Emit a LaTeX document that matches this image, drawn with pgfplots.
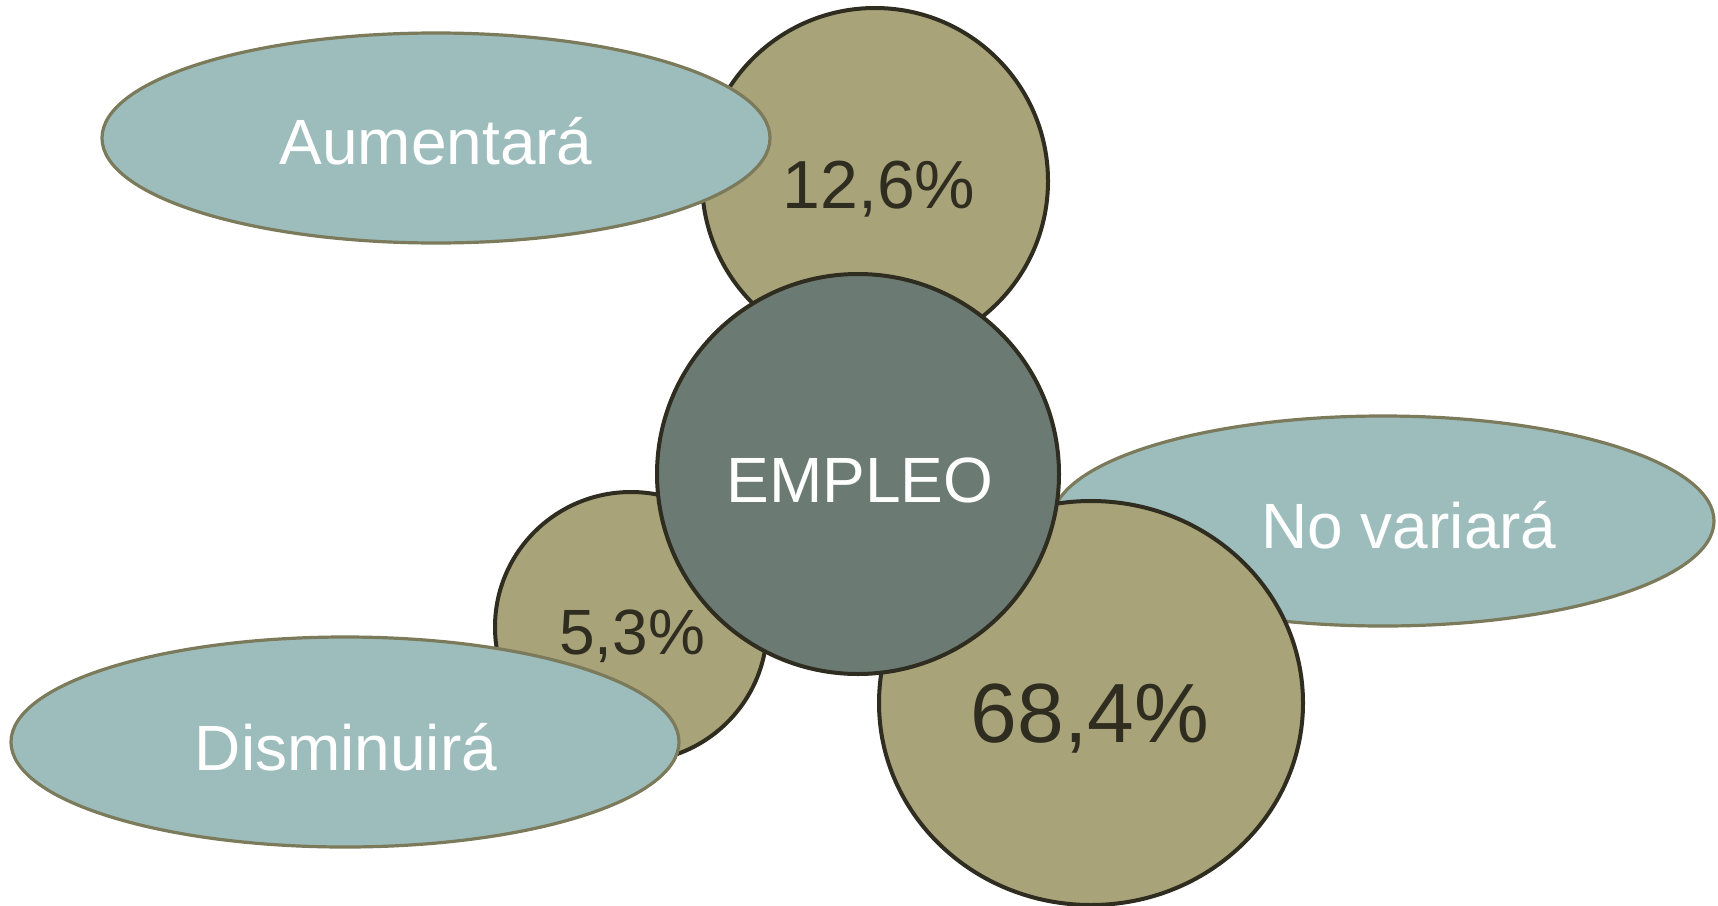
\documentclass[border=0pt]{standalone}
\usepackage{pgfplots}
\usepackage{pgfplotstable}
\pgfplotsset{compat=1.18}
\usepackage{fontspec}
\setmainfont{Liberation Sans}
\definecolor{bubble}{HTML}{A9A37A}
\definecolor{darkline}{HTML}{2F2C20}
\definecolor{ellfill}{HTML}{9DBDBD}
\definecolor{elledge}{HTML}{7B7A5B}
\definecolor{slate}{HTML}{6B7B74}

\pgfdeclareplotmark{ell}{%
  \pgfmathparse{0.5*\rx}\edef\myrx{\pgfmathresult}%
  \pgfmathparse{0.5*\ry}\edef\myry{\pgfmathresult}%
  \pgfpathellipse{\pgfpointorigin}{\pgfqpoint{\myrx pt}{0pt}}{\pgfqpoint{0pt}{\myry pt}}%
  \pgfusepathqfillstroke}

% shapes: centre (x,y) and radii in pixels of a 1718x905 picture
\pgfplotstableread{
x y rx ry
875 181 173 173
}\tabTop
\pgfplotstableread{
x y rx ry
436 138 334 105
}\tabAum
\pgfplotstableread{
x y rx ry
631 627 136 135
}\tabLow
\pgfplotstableread{
x y rx ry
345 742 334 105
}\tabDis
\pgfplotstableread{
x y rx ry
1383 521 331 105
}\tabNov
\pgfplotstableread{
x y rx ry
1091 703 212 202
}\tabBig
\pgfplotstableread{
x y rx ry
858 474 201 200
}\tabCen

\begin{document}
\begin{tikzpicture}[
  lab/.style={anchor=base, inner sep=0pt, text=white, font=\fontsize{32}{32}\selectfont},
  pct/.style={anchor=base, inner sep=0pt, text=darkline, font=\fontsize{#1}{#1}\selectfont},
]
\begin{axis}[
  x=0.5pt, y=0.5pt, y dir=reverse,
  xmin=0, xmax=1718, ymin=0, ymax=905,
  hide axis, clip=true, clip marker paths=true,
  blob/.style={only marks, mark=ell, scatter,
    visualization depends on={\thisrow{rx} \as \rx},
    visualization depends on={\thisrow{ry} \as \ry}},
  circ/.style={blob, scatter/use mapped color={draw=darkline, fill=bubble},
    mark options={line width=2pt}},
  oval/.style={blob, scatter/use mapped color={draw=elledge, fill=ellfill},
    mark options={line width=1.6pt}},
]
\addplot[circ] table {\tabTop};
\addplot[oval] table {\tabAum};
\addplot[circ] table {\tabLow};
\addplot[oval] table {\tabDis};
\addplot[oval] table {\tabNov};
\addplot[circ] table {\tabBig};
\addplot[blob, scatter/use mapped color={draw=darkline, fill=slate},
    mark options={line width=2pt}] table {\tabCen};
\node[lab] at (axis cs:436,164) {Aumentará};
\node[lab] at (axis cs:860,502) {EMPLEO};
\node[lab] at (axis cs:1409,548) {No variará};
\node[lab] at (axis cs:346,770) {Disminuirá};
\node[pct=34] at (axis cs:879,208) {12,6\%};
\node[pct=32] at (axis cs:632,654) {5,3\%};
\node[pct=42] at (axis cs:1090,742) {68,4\%};
\coordinate (bbA) at (rel axis cs:0,0);
\coordinate (bbB) at (rel axis cs:1,1);
\end{axis}
\pgfresetboundingbox
\useasboundingbox (bbA) rectangle (bbB);
\end{tikzpicture}
\end{document}
